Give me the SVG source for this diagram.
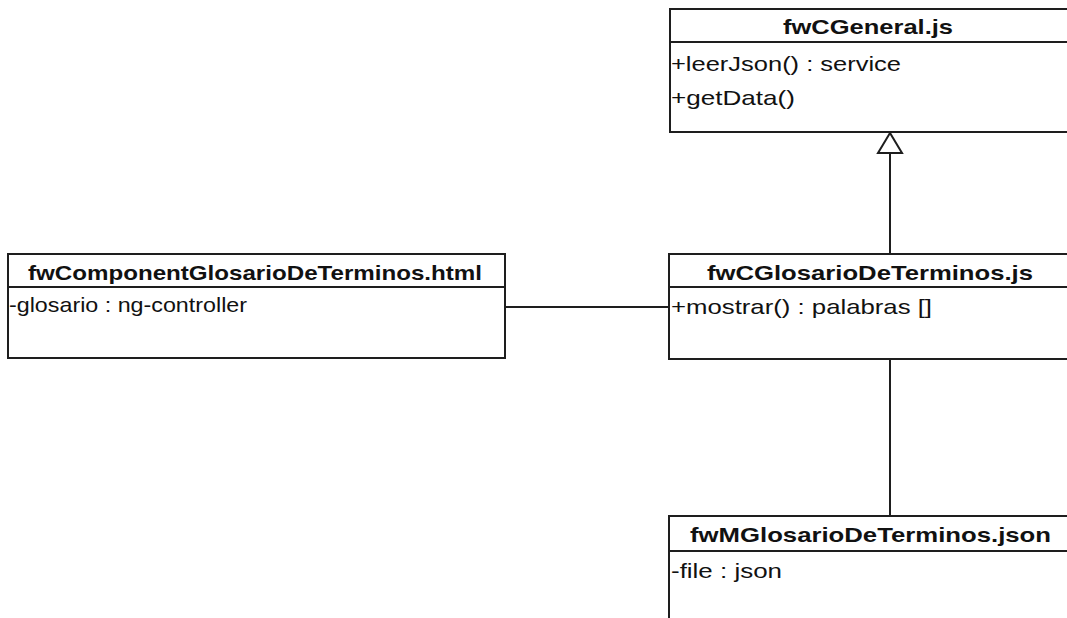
<svg xmlns="http://www.w3.org/2000/svg" width="1067" height="618" viewBox="0 0 1067 618">
  <style>
    .box { fill: #ffffff; stroke: #1e1e1e; stroke-width: 2; }
    .sep { stroke: #1e1e1e; stroke-width: 2; }
    .title { font-family: "Liberation Sans", Arial, sans-serif; font-size: 21px; font-weight: bold; fill: #111; }
    .member { font-family: "Liberation Sans", Arial, sans-serif; font-size: 21px; fill: #111; }
    .conn { stroke: #1e1e1e; stroke-width: 2; fill: none; }
  </style>
  <rect x="0" y="0" width="1067" height="618" fill="#ffffff"/>

  <!-- connectors -->
  <g id="connectors">
    <line class="conn" x1="890" y1="254" x2="890" y2="153"/>
    <polygon class="conn" points="890,133 878,153 902,153" fill="#ffffff"/>
    <line class="conn" x1="505" y1="307" x2="669" y2="307"/>
    <line class="conn" x1="890" y1="359" x2="890" y2="516"/>
  </g>

  <!-- fwCGeneral.js -->
  <g id="fwCGeneral">
    <rect class="box" x="670" y="9" width="402" height="123"/>
    <line class="sep" x1="670" y1="42" x2="1072" y2="42"/>
    <text class="title" x="783" y="34" textLength="170" lengthAdjust="spacingAndGlyphs">fwCGeneral.js</text>
    <text class="member" x="671" y="71" textLength="230" lengthAdjust="spacingAndGlyphs">+leerJson() : service</text>
    <text class="member" x="671" y="105" textLength="124" lengthAdjust="spacingAndGlyphs">+getData()</text>
  </g>

  <!-- fwComponentGlosarioDeTerminos.html -->
  <g id="fwComponentGlosarioDeTerminos">
    <rect class="box" x="8" y="254" width="497" height="104"/>
    <line class="sep" x1="8" y1="287" x2="505" y2="287"/>
    <text class="title" x="28" y="280" textLength="454" lengthAdjust="spacingAndGlyphs">fwComponentGlosarioDeTerminos.html</text>
    <text class="member" x="9" y="312" textLength="238" lengthAdjust="spacingAndGlyphs">-glosario : ng-controller</text>
  </g>

  <!-- fwCGlosarioDeTerminos.js -->
  <g id="fwCGlosarioDeTerminos">
    <rect class="box" x="669" y="254" width="403" height="105"/>
    <line class="sep" x1="669" y1="287" x2="1072" y2="287"/>
    <text class="title" x="707" y="280" textLength="326" lengthAdjust="spacingAndGlyphs">fwCGlosarioDeTerminos.js</text>
    <text class="member" x="671" y="314" textLength="261" lengthAdjust="spacingAndGlyphs">+mostrar() : palabras []</text>
  </g>

  <!-- fwMGlosarioDeTerminos.json -->
  <g id="fwMGlosarioDeTerminos">
    <rect class="box" x="669" y="516" width="403" height="120"/>
    <line class="sep" x1="669" y1="551" x2="1072" y2="551"/>
    <text class="title" x="690" y="542" textLength="361" lengthAdjust="spacingAndGlyphs">fwMGlosarioDeTerminos.json</text>
    <text class="member" x="671" y="578" textLength="111" lengthAdjust="spacingAndGlyphs">-file : json</text>
  </g>
</svg>
